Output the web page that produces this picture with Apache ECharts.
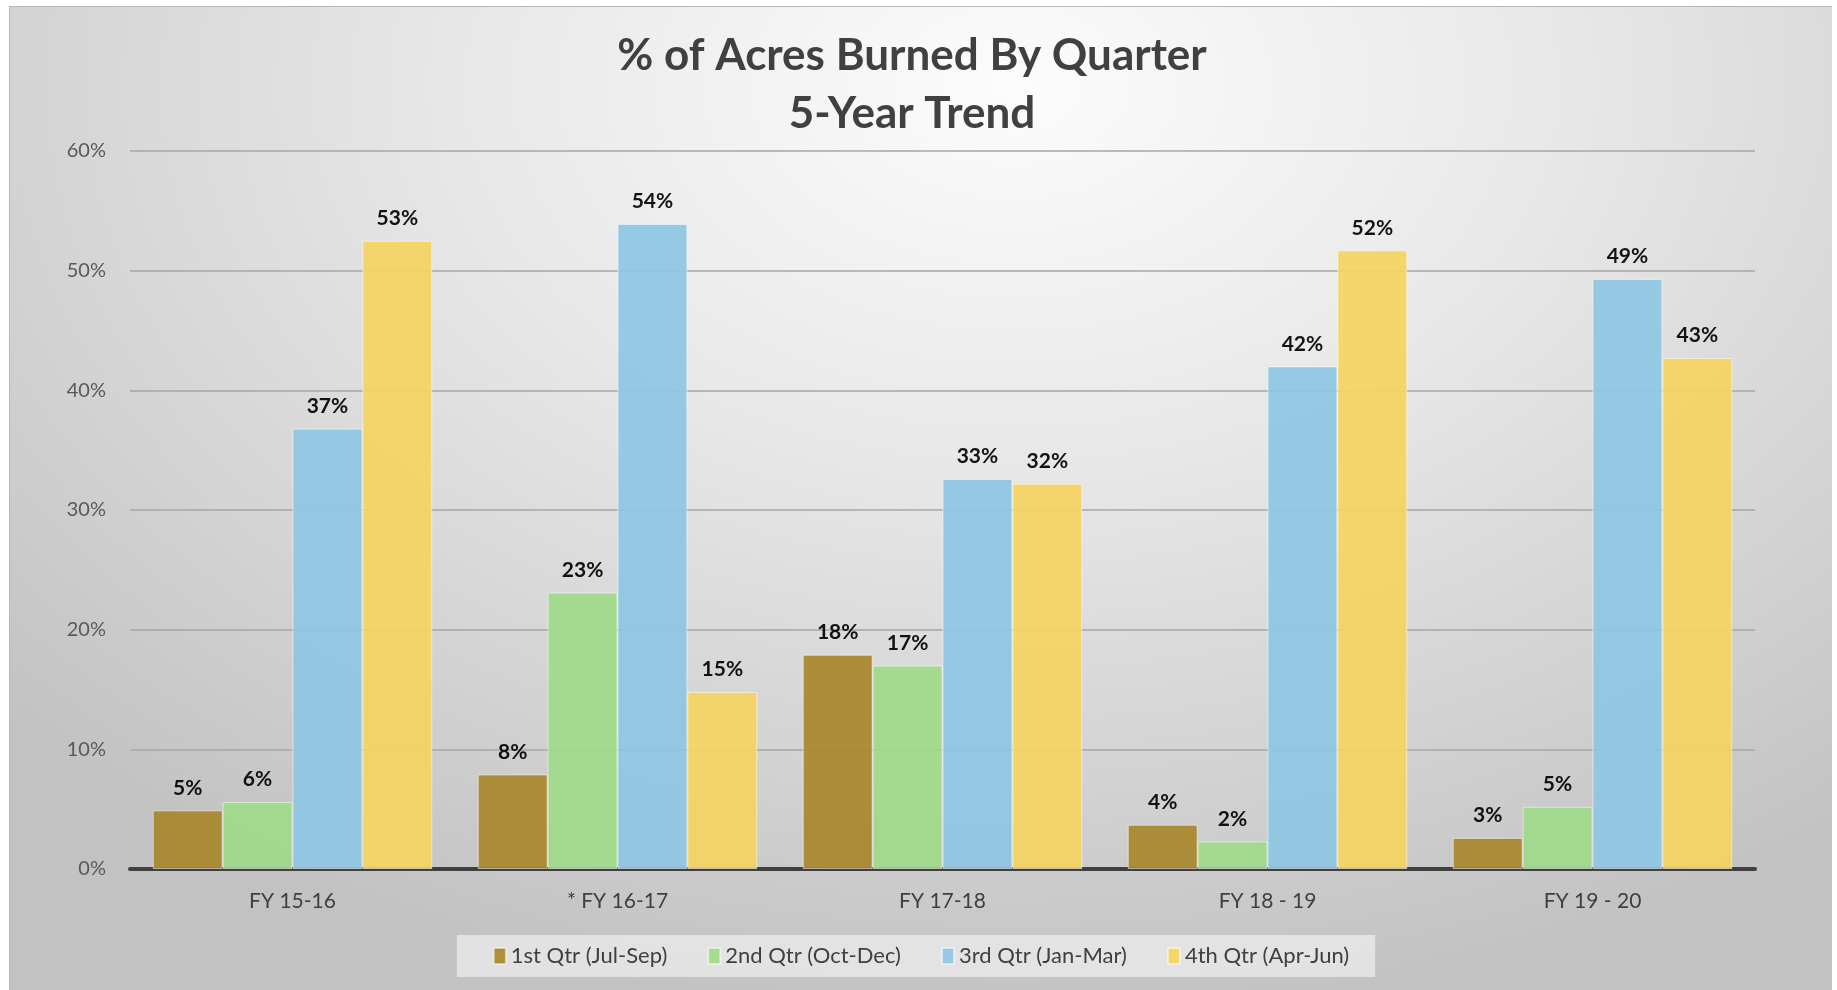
<!DOCTYPE html>
<html>
<head>
<meta charset="utf-8">
<title>% of Acres Burned By Quarter</title>
<script src="https://cdn.jsdelivr.net/npm/echarts@6/dist/echarts.min.js"></script>
<style>
  html, body { margin: 0; padding: 0; background: #ffffff; }
  #chart {
    position: absolute;
    left: 9px;
    top: 6px;
    width: 1822px;
    height: 984px;
    border-left: 1px solid #b8b8b8;
    border-top: 1px solid #b8b8b8;
    background: radial-gradient(ellipse 75% 95% at 55% 8%, #fcfcfc 0%, #e8e8e8 40%, #d2d2d2 75%, #c2c2c2 100%);
  }
</style>
</head>
<body>
<div id="chart"></div>
<script>
// fiscal years on the x axis
const years = ['FY 15-16', '* FY 16-17', 'FY 17-18', 'FY 18 - 19', 'FY 19 - 20'];

// % of acres burned per quarter
const q1 = [4.9, 7.9, 17.9, 3.7, 2.6];
const q2 = [5.6, 23.1, 17.0, 2.3, 5.2];
const q3 = [36.8, 53.9, 32.6, 42.0, 49.3];
const q4 = [52.5, 14.8, 32.2, 51.7, 42.7];

const quarterNames = ['1st Qtr (Jul-Sep)', '2nd Qtr (Oct-Dec)', '3rd Qtr (Jan-Mar)', '4th Qtr (Apr-Jun)'];
const quarterColors = ['#a8872b', '#a0d98a', '#8dc5e3', '#f5d462'];
const yTicks = [0, 10, 20, 30, 40, 50, 60];

const FONT = 'Lato, "Noto Sans", sans-serif';

const chart = echarts.init(document.getElementById('chart'));

function makeSeries(name, data, color) {
    return {
        name: name,
        type: 'bar',
        data: data,
        barGap: '0%',
        barCategoryGap: '14%',
        itemStyle: {
            color: color,
            opacity: 0.92,
            borderColor: 'rgba(255,255,255,0.55)',
            borderWidth: 1
        },
        label: {
            show: true,
            position: 'top',
            distance: 12,
            color: '#000',
            fontFamily: FONT,
            fontWeight: 'bold',
            fontSize: 21,
            formatter: p => Math.round(p.value) + '%'
        }
    };
}

chart.setOption({
    backgroundColor: 'transparent',
    textStyle: { fontFamily: FONT },
    title: {
        text: '% of Acres Burned By Quarter\n5-Year Trend',
        left: 'center',
        top: 20,
        padding: 0,
        textAlign: 'center',
        textStyle: {
            fontFamily: FONT,
            fontWeight: 'bold',
            fontSize: 44,
            lineHeight: 58,
            color: '#404040'
        }
    },
    legend: {
        data: quarterNames,
        bottom: 14,
        left: 'center',
        backgroundColor: 'rgba(232,232,232,0.85)',
        padding: [10, 26, 10, 36],
        itemWidth: 12,
        itemHeight: 16,
        itemGap: 40,
        icon: 'rect',
        textStyle: {
            fontFamily: FONT,
            fontSize: 22,
            color: '#404040'
        }
    },
    grid: {
        left: 120,
        right: 77,
        top: 144,
        bottom: 122
    },
    xAxis: {
        type: 'category',
        data: years,
        axisLine: { lineStyle: { color: '#404040', width: 4 } },
        axisTick: { show: false },
        axisLabel: {
            fontFamily: FONT,
            fontSize: 21,
            color: '#404040',
            margin: 22
        }
    },
    yAxis: {
        type: 'value',
        min: yTicks[0],
        max: yTicks[yTicks.length - 1],
        interval: 10,
        axisLine: { show: false },
        axisTick: { show: false },
        axisLabel: {
            fontFamily: FONT,
            fontSize: 20,
            color: '#595959',
            margin: 24,
            formatter: v => v + '%'
        },
        splitLine: { lineStyle: { color: '#a6a6a6', width: 1.5 } }
    },
    series: [
        makeSeries(quarterNames[0], q1, quarterColors[0]),
        makeSeries(quarterNames[1], q2, quarterColors[1]),
        makeSeries(quarterNames[2], q3, quarterColors[2]),
        makeSeries(quarterNames[3], q4, quarterColors[3])
    ]
});
// nudge the title a little left of centre, like the original
chart.setOption({ title: { left: 902 } });
</script>
</body>
</html>
